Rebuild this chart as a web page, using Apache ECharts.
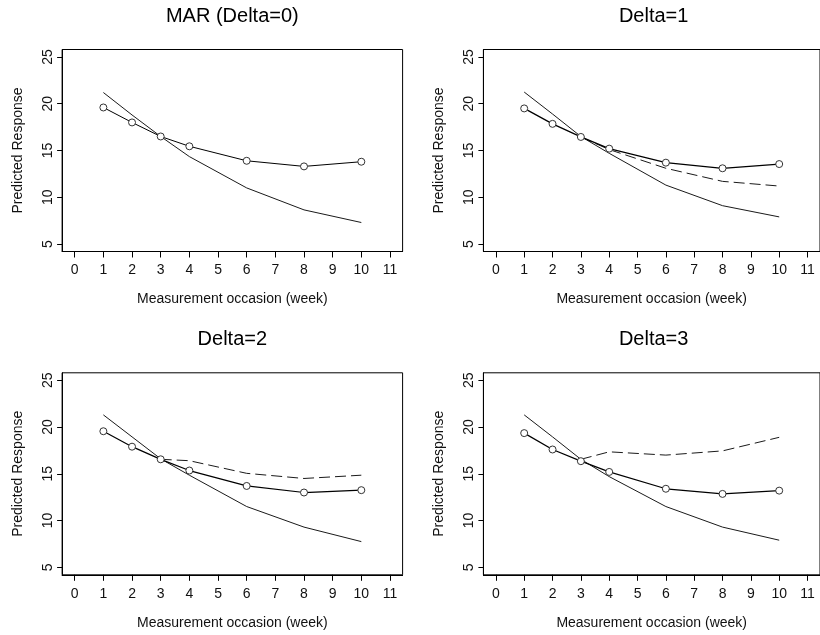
<!DOCTYPE html>
<html>
<head>
<meta charset="utf-8">
<script src="https://cdn.jsdelivr.net/npm/echarts@6/dist/echarts.min.js"></script>
<style>
html,body{margin:0;padding:0;background:#fff;}
#chart{width:820px;height:635px;}
</style>
</head>
<body>
<div id="chart"></div>
<script>
// ---- data ----
const weeks = [1, 2, 3, 4, 6, 8, 10];
const xTicks = [0, 1, 2, 3, 4, 5, 6, 7, 8, 9, 10, 11];
const yTicks = [5, 10, 15, 20, 25];
const titles = ['MAR (Delta=0)', 'Delta=1', 'Delta=2', 'Delta=3'];
const xName = 'Measurement occasion (week)';
const yName = 'Predicted Response';

// solid line with circle markers
const obs0 = [19.6, 18.0, 16.5, 15.45, 13.9, 13.3, 13.8];
const obs1 = [19.5, 17.85, 16.45, 15.2, 13.7, 13.1, 13.55];
const obs2 = [19.55, 17.9, 16.55, 15.35, 13.7, 13.0, 13.25];
const obs3 = [19.35, 17.6, 16.35, 15.2, 13.4, 12.85, 13.2];
// dashed line (from week 3 on)
const dash1 = [null, null, 16.45, 15.1, 13.1, 11.7, 11.2];
const dash2 = [null, null, 16.55, 16.4, 15.05, 14.5, 14.85];
const dash3 = [null, null, 16.55, 17.35, 17.0, 17.45, 18.9];
// lower solid line
const low0 = [21.2, 18.8, 16.5, 14.35, 11.0, 8.65, 7.3];
const low1 = [21.25, 18.9, 16.5, 14.7, 11.3, 9.1, 7.9];
const low2 = [21.3, 18.95, 16.6, 14.85, 11.5, 9.3, 7.75];
const low3 = [21.3, 18.95, 16.55, 14.7, 11.5, 9.3, 7.9];

const obsSets = [obs0, obs1, obs2, obs3];
const dashSets = [null, dash1, dash2, dash3];
const lowSets = [low0, low1, low2, low3];

// ---- layout ----
const FONT = '"Liberation Sans", Arial, sans-serif';
const lefts = [62.1, 483.4, 62.1, 483.4];
const tops = [49.5, 49.5, 372.8, 372.8];
const W = 340.5, H = 202;
const titleTops = [6, 6, 329, 329];

function pts(vals) {
  const out = [];
  weeks.forEach((w, i) => { if (vals[i] !== null) out.push([w, vals[i]]); });
  return out;
}

const grids = [], xAxes = [], yAxes = [], series = [], titleArr = [];
for (let k = 0; k < 4; k++) {
  grids.push({
    left: lefts[k], top: tops[k], width: W, height: H,
    show: true, borderColor: '#000', borderWidth: 1, backgroundColor: 'transparent',
    containLabel: false
  });
  titleArr.push({
    text: titles[k],
    left: lefts[k] + W / 2, top: titleTops[k], textAlign: 'center', padding: 0,
    textStyle: { fontFamily: FONT, fontSize: 20, fontWeight: 'normal', color: '#000' }
  });
  xAxes.push({
    type: 'value', gridIndex: k, min: -0.44, max: 11.44,
    name: xName, nameLocation: 'middle', nameGap: 41,
    nameTextStyle: { fontFamily: FONT, fontSize: 14, color: '#111' },
    axisLine: { show: true, onZero: false, lineStyle: { color: '#000', width: 1 } },
    axisTick: { show: true, inside: false, length: 6, customValues: xTicks, lineStyle: { color: '#000' } },
    axisLabel: { show: true, customValues: xTicks, margin: 12, fontFamily: FONT, fontSize: 14, color: '#111', showMinLabel: true, showMaxLabel: true },
    splitLine: { show: false }
  });
  yAxes.push({
    type: 'value', gridIndex: k, min: 4.2, max: 25.8,
    name: yName, nameLocation: 'middle', nameGap: 37,
    nameTextStyle: { fontFamily: FONT, fontSize: 14, color: '#111' },
    axisLine: { show: true, onZero: false, lineStyle: { color: '#000', width: 1 } },
    axisTick: { show: true, inside: false, length: 5, customValues: yTicks, lineStyle: { color: '#000' } },
    axisLabel: { show: true, customValues: yTicks, rotate: 90, margin: 7, fontFamily: FONT, fontSize: 14, color: '#111' },
    splitLine: { show: false }
  });
  series.push({
    type: 'line', xAxisIndex: k, yAxisIndex: k, data: pts(lowSets[k]),
    symbol: 'none', lineStyle: { color: '#1a1a1a', width: 1 }, silent: true, animation: false, z: 2
  });
  if (dashSets[k]) {
    series.push({
      type: 'line', xAxisIndex: k, yAxisIndex: k, data: pts(dashSets[k]),
      symbol: 'none', lineStyle: { color: '#1a1a1a', width: 1, type: [11, 5] }, silent: true, animation: false, z: 3
    });
  }
  series.push({
    type: 'line', xAxisIndex: k, yAxisIndex: k, data: pts(obsSets[k]),
    symbol: 'circle', symbolSize: 7, showSymbol: true,
    itemStyle: { color: '#fff', borderColor: '#333', borderWidth: 1 },
    lineStyle: { color: '#000', width: k === 0 ? 1 : 1.25 }, silent: true, animation: false, z: 4
  });
}

const chart = echarts.init(document.getElementById('chart'), null, { renderer: 'canvas' });
chart.setOption({
  animation: false,
  backgroundColor: '#fff',
  title: titleArr,
  grid: grids,
  xAxis: xAxes,
  yAxis: yAxes,
  series: series
});
</script>
</body>
</html>
